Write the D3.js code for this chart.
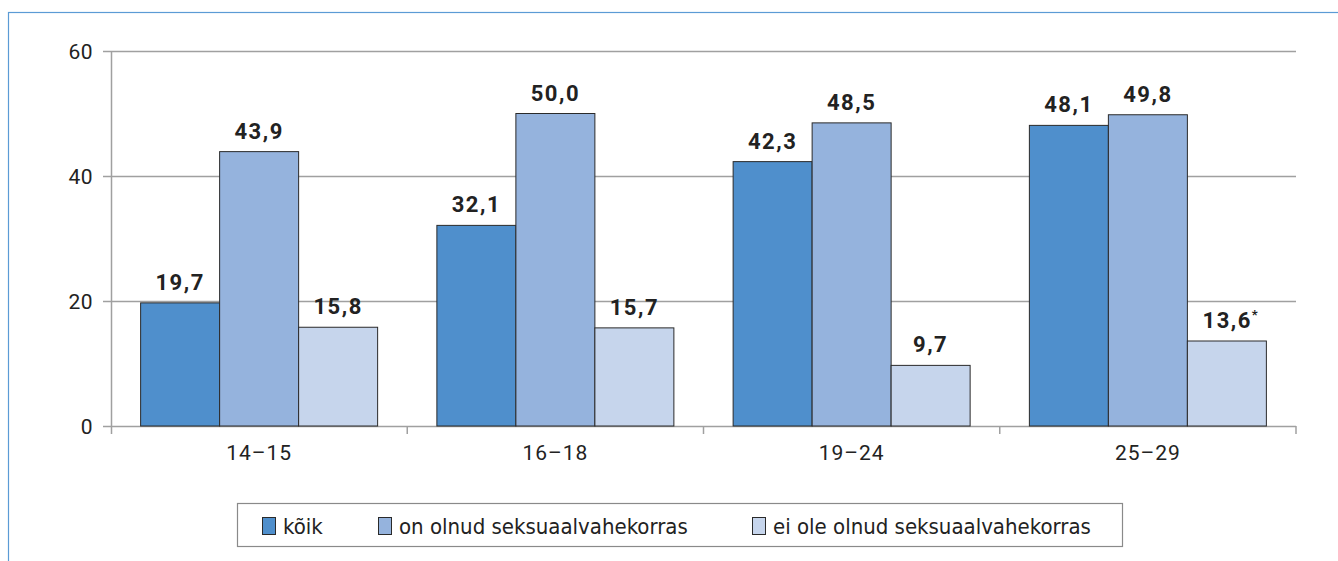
<!DOCTYPE html>
<html><head><meta charset="utf-8">
<script src="https://cdn.jsdelivr.net/npm/d3@7"></script>
<style>body{margin:0;background:#fff}</style>
</head><body><svg id="c" width="1338" height="561"></svg>
<script>
const categories = ["14–15", "16–18", "19–24", "25–29"];
const seriesNames = ["kõik", "on olnud seksuaalvahekorras", "ei ole olnud seksuaalvahekorras"];
const koik = [19.7, 32.1, 42.3, 48.1];
const onOlnud = [43.9, 50.0, 48.5, 49.8];
const eiOle = [15.8, 15.7, 9.7, 13.6];
const notes = ["", "", "", "", "", "", "", "", "", "", "", "*"]; // per bar, series-major
const yTicks = [0, 20, 40, 60];
const colors = ["#4f8fcc", "#95b3dd", "#c6d5ec"];

const series = [koik, onOlnud, eiOle];
const svg = d3.select("#c");
const fmt = v => d3.format(".1f")(v).replace(".", ",");

// outer frame (top and left edges visible)
svg.append("rect").attr("x", 8.5).attr("y", 12.5).attr("width", 1400).attr("height", 700)
  .attr("fill", "none").attr("stroke", "#5b9bd5").attr("stroke-width", 1.2);

const plotL = 111, plotR = 1296, plotT = 51, plotB = 426;
const x = d3.scaleBand().domain(categories).range([plotL, plotR]).paddingInner(0).paddingOuter(0);
const y = d3.scaleLinear().domain([0, 60]).range([plotB, plotT]);
const xs = d3.scaleBand().domain(d3.range(3)).range([0, x.bandwidth()]).paddingOuter(0.375).paddingInner(0);

// grid
svg.append("g").selectAll("line").data(yTicks).join("line")
  .attr("x1", plotL - 8).attr("x2", plotR).attr("y1", d => Math.round(y(d)) + 0.5).attr("y2", d => Math.round(y(d)) + 0.5)
  .attr("stroke", "#a0a0a0").attr("stroke-width", 1.5);

// y axis line
svg.append("line").attr("x1", plotL + 0.5).attr("x2", plotL + 0.5).attr("y1", plotT).attr("y2", plotB + 8)
  .attr("stroke", "#a0a0a0").attr("stroke-width", 1.5);
// x ticks at band boundaries
svg.append("g").selectAll("line").data(categories.map((c, i) => i + 1)).join("line")
  .attr("x1", i => plotL + i * x.step()).attr("x2", i => plotL + i * x.step())
  .attr("y1", plotB).attr("y2", plotB + 8).attr("stroke", "#a0a0a0").attr("stroke-width", 1.5);

svg.append("g").selectAll("text").data(yTicks).join("text")
  .attr("x", plotL - 18).attr("y", d => y(d)).attr("dy", "0.36em").attr("text-anchor", "end")
  .attr("font-family", "Roboto, sans-serif").attr("font-size", 21).attr("letter-spacing", 0.5)
  .attr("fill", "#222").text(d => d);

svg.append("g").selectAll("text").data(categories).join("text")
  .attr("x", d => x(d) + x.bandwidth() / 2).attr("y", 460).attr("text-anchor", "middle")
  .attr("font-family", "Roboto, sans-serif").attr("font-size", 21).attr("letter-spacing", 1)
  .attr("fill", "#222").text(d => d);

// bars
const bars = [];
series.forEach((s, si) => s.forEach((v, ci) => bars.push({ si, ci, v, note: notes[si * 4 + ci] })));
svg.append("g").selectAll("rect").data(bars).join("rect")
  .attr("x", d => x(categories[d.ci]) + xs(d.si))
  .attr("y", d => y(d.v)).attr("width", xs.bandwidth()).attr("height", d => y(0) - y(d.v))
  .attr("fill", d => colors[d.si]).attr("stroke", "#2a2a2a").attr("stroke-width", 1);

// value labels
const lbl = svg.append("g").selectAll("text").data(bars).join("text")
  .attr("x", d => x(categories[d.ci]) + xs(d.si) + xs.bandwidth() / 2 + (d.note ? 4 : 0))
  .attr("y", d => y(d.v) - 13).attr("text-anchor", "middle")
  .attr("font-family", "Roboto, sans-serif").attr("font-weight", "bold").attr("font-size", 22)
  .attr("fill", "#222").attr("letter-spacing", 1.5);
lbl.append("tspan").text(d => fmt(d.v));
lbl.filter(d => d.note).append("tspan").attr("font-size", 13).attr("dy", -9).text(d => d.note);

// legend
const lg = svg.append("g");
lg.append("rect").attr("x", 237.5).attr("y", 503.5).attr("width", 885).attr("height", 43)
  .attr("fill", "#fff").attr("stroke", "#8a8a8a").attr("stroke-width", 1.2);
const legX = [262, 378, 752];
seriesNames.forEach((n, i) => {
  lg.append("rect").attr("x", legX[i] + 0.5).attr("y", 517.5).attr("width", 13).attr("height", 17)
    .attr("fill", colors[i]).attr("stroke", "#2a2a2a").attr("stroke-width", 1);
  lg.append("text").attr("x", legX[i] + 21).attr("y", 534)
    .attr("font-family", "'DejaVu Sans Condensed', 'Liberation Sans Narrow', sans-serif")
    .attr("font-size", 22).attr("fill", "#222").text(n);
});
</script></body></html>
